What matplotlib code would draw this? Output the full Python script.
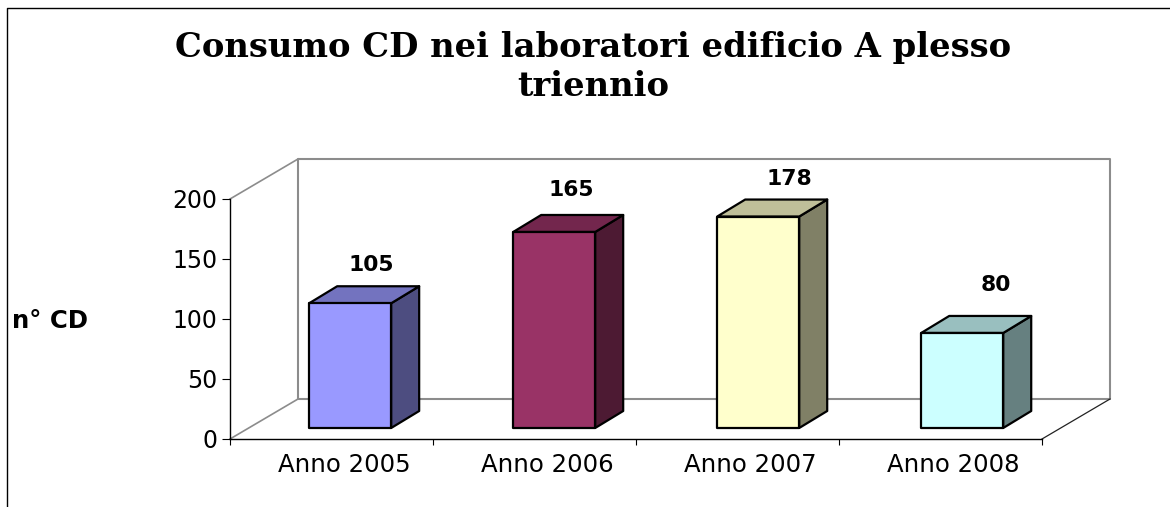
import numpy as np
import matplotlib
matplotlib.use("Agg")
import matplotlib.pyplot as plt
from matplotlib.patches import Polygon
from matplotlib.lines import Line2D

categories = ["Anno 2005", "Anno 2006", "Anno 2007", "Anno 2008"]
values = [105, 165, 178, 80]
y_ticks = [0, 50, 100, 150, 200]
face_colors = ["#9999FF", "#993366", "#FFFFCC", "#CCFFFF"]
top_colors = ["#7373BF", "#73264D", "#BFBF99", "#99BFBF"]
side_colors = ["#4D4D80", "#4D1A33", "#808066", "#668080"]
title = "Consumo CD nei laboratori edificio A plesso\ntriennio"

W, H = 1170, 507
# front plane of the fake 3d box, in pixels
X0, X1, Y0, Y1 = 230, 1042, 439, 199

fig = plt.figure(figsize=(W / 100, H / 100), dpi=100, facecolor="white")
ax = fig.add_axes([X0 / W, 1 - Y0 / H, (X1 - X0) / W, (Y0 - Y1) / H])
ax.set_xlim(0, 4)
ax.set_ylim(0, 200)

px = 4 / (X1 - X0)
py = 200 / (Y0 - Y1)


def poly(pts, fc="none", ec="black", lw=1.6, z=3):
    ax.add_patch(Polygon(pts, closed=True, facecolor=fc, edgecolor=ec, linewidth=lw,
                         joinstyle="round", clip_on=False, zorder=z))


# walls
wx, wy = 68 * px, 40 * py
poly([(wx, wy), (4 + wx, wy), (4 + wx, 200 + wy), (wx, 200 + wy)], ec="#8C8C8C", lw=1.5, z=1)
ax.plot([0, wx], [200, 200 + wy], color="#8C8C8C", lw=1.2, clip_on=False, zorder=1)
ax.plot([0, wx], [0, wy], color="#8C8C8C", lw=1.2, clip_on=False, zorder=1)
ax.plot([4, 4 + wx], [0, wy], color="#222222", lw=0.9, clip_on=False, zorder=1)

# bars
dx, dy = 28 * px, 17 * py
inset_y = 11 * py
bar_w = 82 * px
bar_scale = 0.99  # bars come out a touch short of the axis scale in the original
label_off = [(21, 38), (17, 42), (31, 38), (34, 48)]
for i, v in enumerate(values):
    l = 0.39 + i * 1.005
    r = l + bar_w
    b = inset_y
    t = v * bar_scale + inset_y
    poly([(r, b), (r + dx, b + dy), (r + dx, t + dy), (r, t)], fc=side_colors[i])
    poly([(l, t), (r, t), (r + dx, t + dy), (l + dx, t + dy)], fc=top_colors[i])
    poly([(l, b), (r, b), (r, t), (l, t)], fc=face_colors[i])
    ax.annotate(str(v), (l + bar_w / 2, t), xytext=(label_off[i][0] * 0.72, label_off[i][1] * 0.72),
                textcoords="offset points", ha="center", va="center",
                fontsize=15.7, fontweight="bold", family="DejaVu Sans", zorder=5)

# axes
for s in ["top", "right"]:
    ax.spines[s].set_visible(False)
for s in ["left", "bottom"]:
    ax.spines[s].set_linewidth(1)
ax.patch.set_visible(False)
ax.set_yticks(y_ticks)
ax.tick_params(axis="y", length=6, width=0.8, labelsize=17, pad=3)
ax.set_xticks(np.arange(5))
ax.set_xticklabels([])
ax.tick_params(axis="x", which="major", length=4, width=0.8)
ax.set_xticks(np.arange(4) + 0.565, minor=True)
ax.set_xticklabels(categories, minor=True, fontsize=17.6)
ax.tick_params(axis="x", which="minor", length=0, pad=10)

fig.text(12 / W, 1 - 321 / H, "n° CD", fontsize=17.6, fontweight="bold", family="DejaVu Sans",
         ha="left", va="center")
fig.text(593 / W, 1 - 67 / H, title, fontsize=24.3, fontweight="bold", family="DejaVu Serif",
         ha="center", va="center", linespacing=1.25)

# outer frame, only top and left show, the rest is cut off
fig.add_artist(Line2D([7 / W, 7 / W, 1], [0, 1 - 8 / H, 1 - 8 / H], color="black", lw=1))

fig.savefig("out.png", dpi=100)
